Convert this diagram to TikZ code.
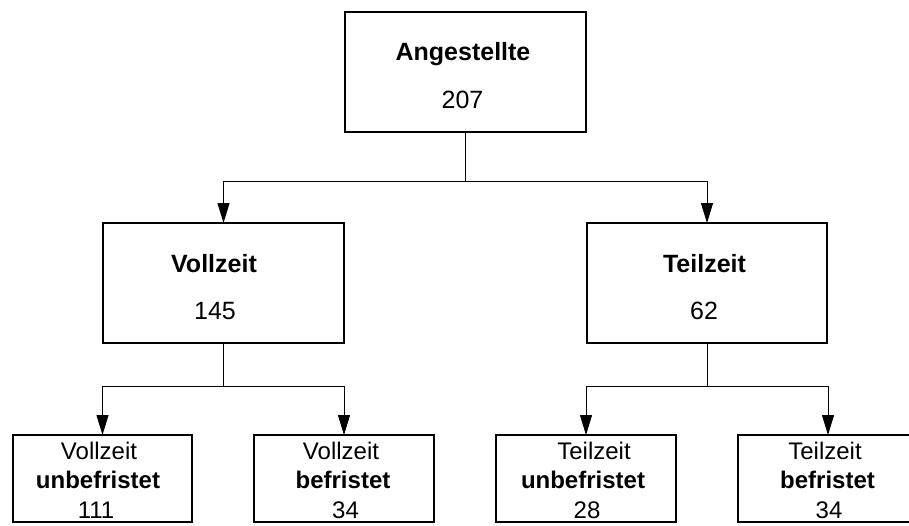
\documentclass[tikz,border=0pt]{standalone}
\usepackage{fontspec}
\setmainfont{Liberation Sans}
\usetikzlibrary{arrows.meta}
\begin{document}
\begin{tikzpicture}[x=1pt,y=-1pt,
  box/.style={draw=black,line width=2pt,rectangle,inner sep=0pt,outer sep=0pt},
  bigbox/.style={box,minimum width=241pt,minimum height=120pt},
  smallbox/.style={box,minimum width=180pt,minimum height=87pt},
  bigtxt/.style={anchor=base,inner sep=0pt,font=\fontsize{25}{30}\selectfont},
  smalltxt/.style={anchor=base,inner sep=0pt,font=\fontsize{24}{29}\selectfont},
  conn/.style={draw=black,line width=1pt},
  arr/.style={conn,-{Triangle[length=20pt,width=12pt]}}]
\useasboundingbox (0,0) rectangle (909,525);
% boxes
\node[bigbox] (top) at (465.5,72) {};
\node[bigbox] (voll) at (223.5,283) {};
\node[bigbox,minimum width=240pt] (teil) at (707,283) {};
\node[smallbox,minimum width=179pt] (b1) at (102.5,478.5) {};
\node[smallbox] (b2) at (344,478.5) {};
\node[smallbox] (b3) at (586,478.5) {};
\node[smallbox] (b4) at (828,478.5) {};
% texts
\node[bigtxt] (t1) at (463,60) {\textbf{Angestellte}};
\node[bigtxt] (t2) at (462.5,108) {207};
\node[bigtxt] (v1) at (214,272) {\textbf{Vollzeit}};
\node[bigtxt] (v2) at (215,319) {145};
\node[bigtxt] (p1) at (704.5,272) {\textbf{Teilzeit}};
\node[bigtxt] (p2) at (704,319) {62};
\node[smalltxt] (a1) at (99,459) {Vollzeit};
\node[smalltxt] (a2) at (98,488) {\textbf{unbefristet}};
\node[smalltxt] (a3) at (96,518) {111};
\node[smalltxt] (c1) at (341,459) {Vollzeit};
\node[smalltxt] (c2) at (343,488) {\textbf{befristet}};
\node[smalltxt] (c3) at (345.5,518) {34};
\node[smalltxt] (d1) at (594,459) {Teilzeit};
\node[smalltxt] (d2) at (583,488) {\textbf{unbefristet}};
\node[smalltxt] (d3) at (587,518) {28};
\node[smalltxt] (e1) at (825,459) {Teilzeit};
\node[smalltxt] (e2) at (827.5,488) {\textbf{befristet}};
\node[smalltxt] (e3) at (829,518) {34};
% junctions
\coordinate (j1) at (465.5,181);
\coordinate (j2) at (223.5,386);
\coordinate (j3) at (707,386);
% connectors
\draw[conn] (top.south) -- (j1);
\draw[arr] (j1) -| (voll.north);
\draw[arr] (j1) -| (teil.north);
\draw[conn] (voll.south) -- (j2);
\draw[arr] (j2) -| (b1.north);
\draw[arr] (j2) -| (b2.north);
\draw[conn] (teil.south) -- (j3);
\draw[arr] (j3) -| (b3.north);
\draw[arr] (j3) -| (b4.north);
\end{tikzpicture}
\end{document}
